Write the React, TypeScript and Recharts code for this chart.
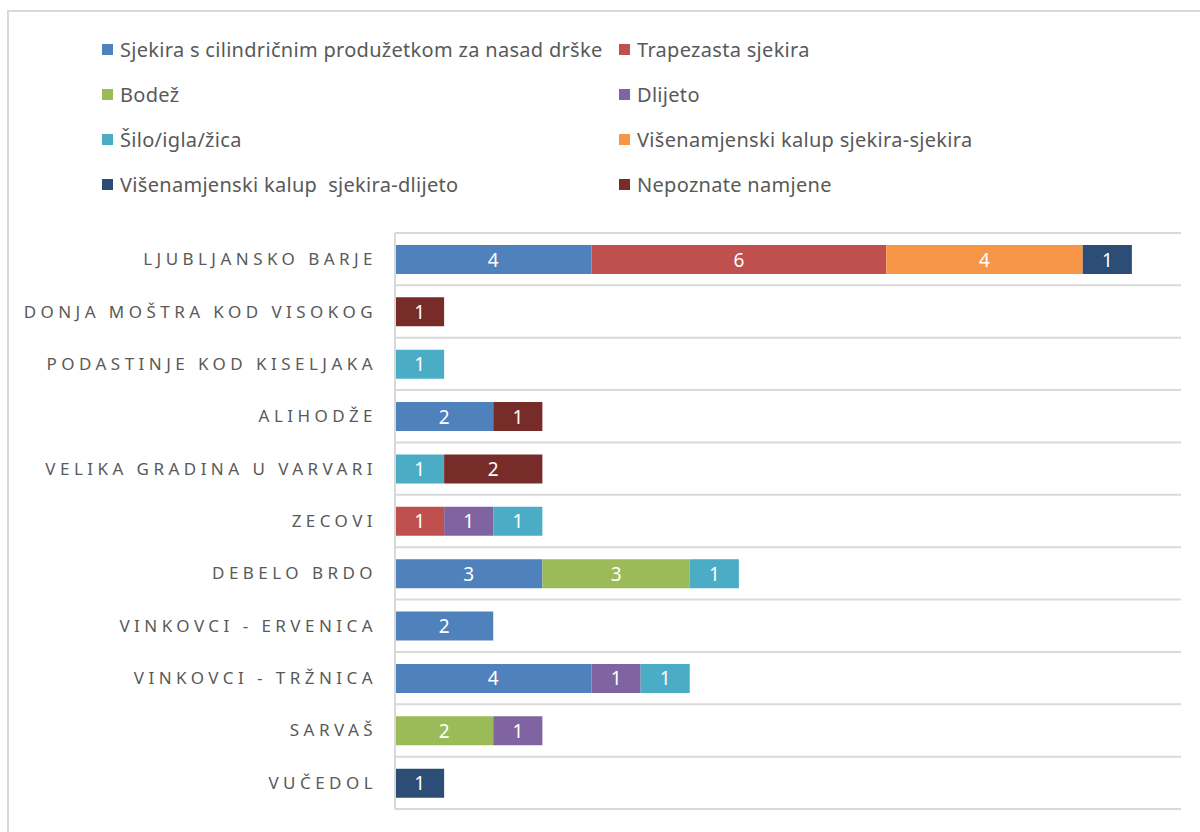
import { Bar, BarChart, CartesianGrid, LabelList, Legend, XAxis, YAxis } from "recharts";

const categories = [
  "LJUBLJANSKO BARJE",
  "DONJA MOŠTRA KOD VISOKOG",
  "PODASTINJE KOD KISELJAKA",
  "ALIHODŽE",
  "VELIKA GRADINA U VARVARI",
  "ZECOVI",
  "DEBELO BRDO",
  "VINKOVCI - ERVENICA",
  "VINKOVCI - TRŽNICA",
  "SARVAŠ",
  "VUČEDOL",
];

const seriesNames = [
  "Sjekira s cilindričnim produžetkom za nasad drške",
  "Trapezasta sjekira",
  "Bodež",
  "Dlijeto",
  "Šilo/igla/žica",
  "Višenamjenski kalup sjekira-sjekira",
  "Višenamjenski kalup  sjekira-dlijeto",
  "Nepoznate namjene",
];

const colors = ["#4F81BD", "#C0504D", "#9BBB59", "#8064A2", "#4BACC6", "#F79646", "#2C4D75", "#772C2A"];

const sjekira = [4, null, null, 2, null, null, 3, 2, 4, null, null];
const trapezasta = [6, null, null, null, null, 1, null, null, null, null, null];
const bodez = [null, null, null, null, null, null, 3, null, null, 2, null];
const dlijeto = [null, null, null, null, null, 1, null, null, 1, 1, null];
const silo = [null, null, 1, null, 1, 1, 1, null, 1, null, null];
const kalupSS = [4, null, null, null, null, null, null, null, null, null, null];
const kalupSD = [1, null, null, null, null, null, null, null, null, null, 1];
const nepoznate = [null, 1, null, 1, 2, null, null, null, null, null, null];

const seriesValues = [sjekira, trapezasta, bodez, dlijeto, silo, kalupSS, kalupSD, nepoznate];

const data = categories.map((name, i) => {
  const row: Record<string, string | number | null> = { name };
  seriesValues.forEach((vals, s) => {
    row["s" + s] = vals[i];
  });
  return row;
});

const FONT = "'Noto Sans', 'Open Sans', sans-serif";
const TEXT = "#595959";

function CategoryTick(props: any) {
  const { x, y, payload } = props;
  return (
    <text
      x={x - 10}
      y={y}
      dy={6}
      textAnchor="end"
      fill={TEXT}
      fontFamily={FONT}
      fontSize={17}
      letterSpacing={4.45}
    >
      {payload.value}
    </text>
  );
}

function LegendBox() {
  return (
    <div
      style={{
        display: "grid",
        gridTemplateColumns: "517px auto",
        fontFamily: FONT,
        fontSize: 20,
        letterSpacing: 0.3,
        color: TEXT,
      }}
    >
      {seriesNames.map((n, i) => (
        <div key={n} style={{ height: 45, display: "flex", alignItems: "center", whiteSpace: "pre" }}>
          <span style={{ width: 11, height: 11, background: colors[i], marginRight: 7, display: "inline-block" }} />
          {n}
        </div>
      ))}
    </div>
  );
}

function SegmentLabel(props: any) {
  const { x, y, width, height, value } = props;
  if (!value) return null;
  return (
    <text
      x={x + width / 2}
      y={y + height / 2}
      dy={7}
      textAnchor="middle"
      fill="#ffffff"
      fontFamily={FONT}
      fontSize={19}
    >
      {value}
    </text>
  );
}

export default function App() {
  return (
    <div style={{ position: "absolute", left: 0, top: 0, width: 1200, height: 832, overflow: "hidden", background: "#fff" }}>
      <div
        style={{
          position: "absolute",
          left: 7,
          top: 10,
          width: 1240,
          height: 880,
          border: "2px solid #d9d9d9",
        }}
      />
      <BarChart
        width={1200}
        height={832}
        data={data}
        layout="vertical"
        margin={{ top: 233, right: 19, bottom: 23, left: 0 }}
      >
        <CartesianGrid
          vertical={false}
          stroke="#d9d9d9"
          strokeWidth={2}
          horizontalCoordinatesGenerator={({ offset }: any) =>
            categories.map((_, i) => offset.top + (i * offset.height) / categories.length).concat(offset.top + offset.height)
          }
        />
        <XAxis type="number" domain={[0, 16]} hide />
        <YAxis
          type="category"
          dataKey="name"
          width={395}
          axisLine={{ stroke: "#d9d9d9", strokeWidth: 2 }}
          tickLine={false}
          tick={<CategoryTick />}
          interval={0}
        />
        <Legend
          layout="horizontal"
          verticalAlign="middle"
          align="center"
          wrapperStyle={{ top: 27, left: 102, width: 1000 }}
          content={() => <LegendBox />}
        />
        {seriesNames.map((n, s) => (
          <Bar key={n} dataKey={"s" + s} name={n} stackId="a" fill={colors[s]} barSize={29} isAnimationActive={false}>
            <LabelList dataKey={"s" + s} content={<SegmentLabel />} />
          </Bar>
        ))}
      </BarChart>
    </div>
  );
}
